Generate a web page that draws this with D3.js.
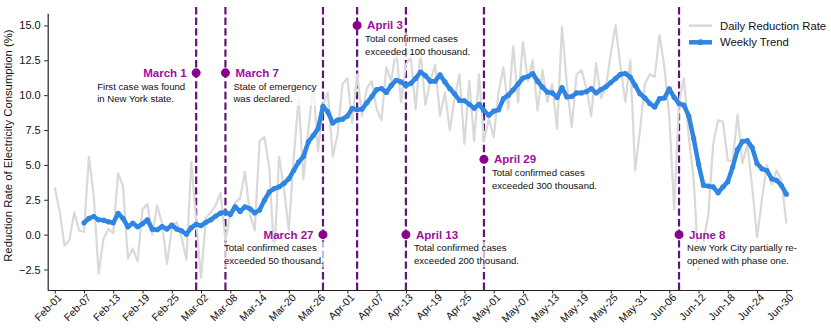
<!DOCTYPE html>
<html>
<head>
<meta charset="utf-8">
<script src="https://cdn.jsdelivr.net/npm/d3@7"></script>
<style>
body{margin:0;background:#fff;}
text{font-family:"Liberation Sans",Arial,sans-serif;}
</style>
</head>
<body>
<svg id="chart" width="831" height="331"></svg>
<script>
// data: day 0 = Feb-01-2020
var START_DATE="2020-02-01";
var DAILY_RATE=[3.4,1.7,-0.8,-0.4,1.6,0.3,0.2,5.6,2.8,-2.8,
  -0.3,0.4,0.1,4.4,3.5,-1.7,-1.0,-1.9,1.8,2.2,
  0.0,2.1,0.8,-2.1,0.4,0.9,-0.2,-1.8,5.2,1.0,
  -3.1,1.2,1.6,2.1,3.0,-0.4,1.5,2.3,2.6,4.5,
  1.5,0.3,6.7,7.0,4.8,-1.6,5.6,3.3,0.3,5.5,
  9.8,4.0,7.5,10.8,6.0,9.3,10.2,5.6,7.2,10.8,
  11.2,8.0,11.5,8.5,10.5,11.0,9.0,8.2,12.0,11.0,
  13.4,9.5,12.2,12.7,9.0,13.2,9.3,11.0,12.2,8.5,
  10.2,7.5,9.8,11.5,6.5,11.0,6.7,11.5,6.7,8.3,
  7.0,10.2,12.0,9.0,13.5,9.5,13.8,11.0,12.5,8.9,
  11.8,9.5,10.8,7.6,14.9,10.8,7.7,11.5,11.8,10.5,
  8.5,12.3,9.8,10.5,13.0,15.0,12.0,9.5,12.5,4.6,
  7.5,10.8,11.5,11.3,14.3,12.0,8.5,1.8,9.5,11.2,
  7.0,4.0,-2.5,-0.5,1.4,6.5,8.2,8.1,5.3,5.3,
  8.6,5.1,6.5,3.4,-0.2,2.5,5.0,3.6,4.6,3.9,
  0.8];
// weekly trend starts on Feb-07 (day 6)
var WEEKLY_START=6;
var WEEKLY_TREND=[0.85,1.16,1.3,1.06,1.04,0.92,0.85,1.52,1.16,0.56,
  0.82,0.56,0.78,1.06,0.38,0.35,0.58,0.4,0.68,0.4,
  0.28,0.03,0.5,0.74,0.65,0.88,1.06,1.33,1.54,1.62,
  1.44,2.0,1.66,2.0,1.87,1.56,1.76,2.47,3.07,3.3,
  3.43,3.67,4.0,4.6,5.2,5.6,6.65,7.1,7.6,9.2,
  8.8,8.0,8.22,8.28,8.5,9.05,8.95,9.0,9.45,9.9,
  10.4,10.47,10.2,10.7,11.07,10.95,10.7,10.85,11.2,11.66,
  11.4,11.0,11.0,11.45,10.95,10.47,10.08,9.62,9.6,9.35,
  9.07,9.35,8.9,8.56,8.85,8.95,9.75,10.0,10.38,10.8,
  11.23,11.33,11.55,11.0,10.57,10.22,10.16,9.84,10.55,9.87,
  9.9,10.16,10.16,10.25,10.47,10.16,10.4,10.6,10.9,11.2,
  11.5,11.55,11.3,10.7,10.1,9.8,9.4,9.15,9.75,9.8,
  10.45,9.85,9.4,9.28,8.5,6.9,5.05,3.54,3.48,3.42,
  3.0,3.42,3.8,4.85,6.1,6.68,6.74,6.24,5.1,4.72,
  4.6,4.0,3.9,3.52,2.9];
var Y_TICKS=[-2.5,0,2.5,5,7.5,10,12.5,15];
var X_TICK_STEP=6;
var EVENT_DATES=["2020-03-01","2020-03-07","2020-03-27","2020-04-03","2020-04-13","2020-04-29","2020-06-08"];
var EVENT_VALUES=[11.6,11.6,0,15,0,5.4,0];
var EVENT_TITLES=["March 1","March 7","March 27","April 3","April 13","April 29","June 8"];
var EVENT_TEXTS=[["First case was found","in New York state."],
  ["State of emergency","was declared."],
  ["Total confirmed cases","exceeded 50 thousand."],
  ["Total confirmed cases","exceeded 100 thousand."],
  ["Total confirmed cases","exceeded 200 thousand."],
  ["Total confirmed cases","exceeded 300 thousand."],
  ["New York City partially re-","opened with phase one."]];
var EVENT_SIDE=["left","right","left","right","right","right","right"];

/* layout */
var PLOT_LEFT=47.7, PLOT_RIGHT=791.7, PLOT_TOP=13.3, PLOT_BOTTOM=290;
var BLUE="#2f86e2", GREY="#d9d9d9", VLINE="#611577", DOT="#8b008b", TITLE="#9c0f9c";
var DAY=864e5;
var parse=d3.utcParse("%Y-%m-%d");
var t0=parse(START_DATE);
function dayToDate(d){return new Date(t0.getTime()+d*DAY);}

var svg=d3.select("#chart");
var x=d3.scaleUtc().domain([dayToDate(-1.44),dayToDate(151.1)]).range([PLOT_LEFT,PLOT_RIGHT]);
var y=d3.scaleLinear().domain([-3.97,15.87]).range([PLOT_BOTTOM,PLOT_TOP]);

var daily=DAILY_RATE.map(function(v,i){return {date:dayToDate(i),v:v};});
var weekly=WEEKLY_TREND.map(function(v,i){return {date:dayToDate(i+WEEKLY_START),v:v};});

//axes
var xTicks=d3.range(0,DAILY_RATE.length,X_TICK_STEP).map(dayToDate);
var xAxis=svg.append("g")
  .attr("transform","translate(0,"+PLOT_BOTTOM+")")
  .call(d3.axisBottom(x).tickValues(xTicks).tickFormat(d3.utcFormat("%b-%d")).tickSize(3.5).tickSizeOuter(0).tickPadding(2));
xAxis.selectAll("text")
  .style("font-size","10.5px")
  .attr("text-anchor","end")
  .attr("dy",null)
  .attr("transform","translate(3,4) rotate(-45)")
  .attr("y",6)
  .attr("x",0);
var yAxis=svg.append("g")
  .attr("transform","translate("+PLOT_LEFT+",0)")
  .call(d3.axisLeft(y).tickValues(Y_TICKS).tickFormat(d3.format(".1f")).tickSize(3.5).tickSizeOuter(0).tickPadding(3.5));
yAxis.selectAll("text").style("font-size","11px").attr("fill","#111");
svg.selectAll(".domain").attr("stroke","#222").attr("stroke-width",1.2);
svg.selectAll(".tick line").attr("stroke","#222").attr("stroke-width",1);
xAxis.selectAll("text").attr("fill","#111");

svg.append("text")
  .text("Reduction Rate of Electricity Consumption (%)")
  .attr("transform","translate(12,"+((PLOT_TOP+PLOT_BOTTOM)/2-6)+") rotate(-90)")
  .attr("text-anchor","middle")
  .style("font-size","11.3px")
  .attr("fill","#111");

//event lines
var vlines=svg.append("g");
EVENT_DATES.forEach(function(d){
  var xx=x(parse(d));
  vlines.append("line")
    .attr("x1",xx).attr("x2",xx)
    .attr("y1",PLOT_BOTTOM).attr("y2",5)
    .attr("stroke",VLINE)
    .attr("stroke-width",2.2)
    .attr("stroke-dasharray","7.4 3.2");
});

//data lines
var line=d3.line().x(function(d){return x(d.date);}).y(function(d){return y(d.v);});
svg.append("path")
  .datum(daily)
  .attr("d",line)
  .attr("fill","none")
  .attr("stroke",GREY)
  .attr("stroke-width",2.2)
  .attr("stroke-linejoin","round");
svg.append("path")
  .datum(weekly)
  .attr("d",line)
  .attr("fill","none")
  .attr("stroke",BLUE)
  .attr("stroke-width",4.5)
  .attr("stroke-linejoin","round");
svg.append("g").selectAll("circle")
  .data(weekly)
  .join("circle")
  .attr("cx",function(d){return x(d.date);})
  .attr("cy",function(d){return y(d.v);})
  .attr("r",2.6)
  .attr("fill",BLUE);

//annotations
var notes=svg.append("g");
EVENT_DATES.forEach(function(d,i){
  var date=parse(d);
  var xx=x(date), yy=y(EVENT_VALUES[i]);
  var left=EVENT_SIDE[i]=="left";
  notes.append("circle")
    .attr("cx",xx).attr("cy",yy).attr("r",4.5)
    .attr("fill",DOT);
  notes.append("text")
    .text(EVENT_TITLES[i])
    .attr("x",left?xx-9.5:xx+10)
    .attr("y",yy+4)
    .attr("text-anchor",left?"end":"start")
    .style("font-size","11.5px")
    .style("font-weight","bold")
    .attr("fill",TITLE);
  var tx=left?x(new Date(date.getTime()-20.3*DAY)):xx+8;
  var box=notes.append("rect").attr("fill","#fff").attr("fill-opacity",0.7);
  var lines=EVENT_TEXTS[i];
  var maxW=0;
  lines.forEach(function(s,j){
    var t=notes.append("text")
      .text(s)
      .attr("x",tx)
      .attr("y",yy+13.5+j*12.8+3.3)
      .style("font-size","9.6px")
      .attr("fill","#111");
    maxW=Math.max(maxW,t.node().getComputedTextLength());
  });
  box.attr("x",tx-1).attr("y",yy+7).attr("width",maxW+2).attr("height",26);
});

//legend
var legend=svg.append("g");
var LEG=[{name:"Daily Reduction Rate",c:GREY,w:2.5,m:false},{name:"Weekly Trend",c:BLUE,w:4.5,m:true}];
LEG.forEach(function(l,i){
  var ly=25.7+i*16.6;
  legend.append("line").attr("x1",689).attr("x2",712).attr("y1",ly).attr("y2",ly)
    .attr("stroke",l.c).attr("stroke-width",l.w);
  if(l.m){legend.append("circle").attr("cx",700.5).attr("cy",ly).attr("r",3).attr("fill",l.c);}
  legend.append("text").text(l.name).attr("x",720).attr("y",ly+4)
    .style("font-size","11.3px").attr("fill","#111");
});
</script>
</body>
</html>
